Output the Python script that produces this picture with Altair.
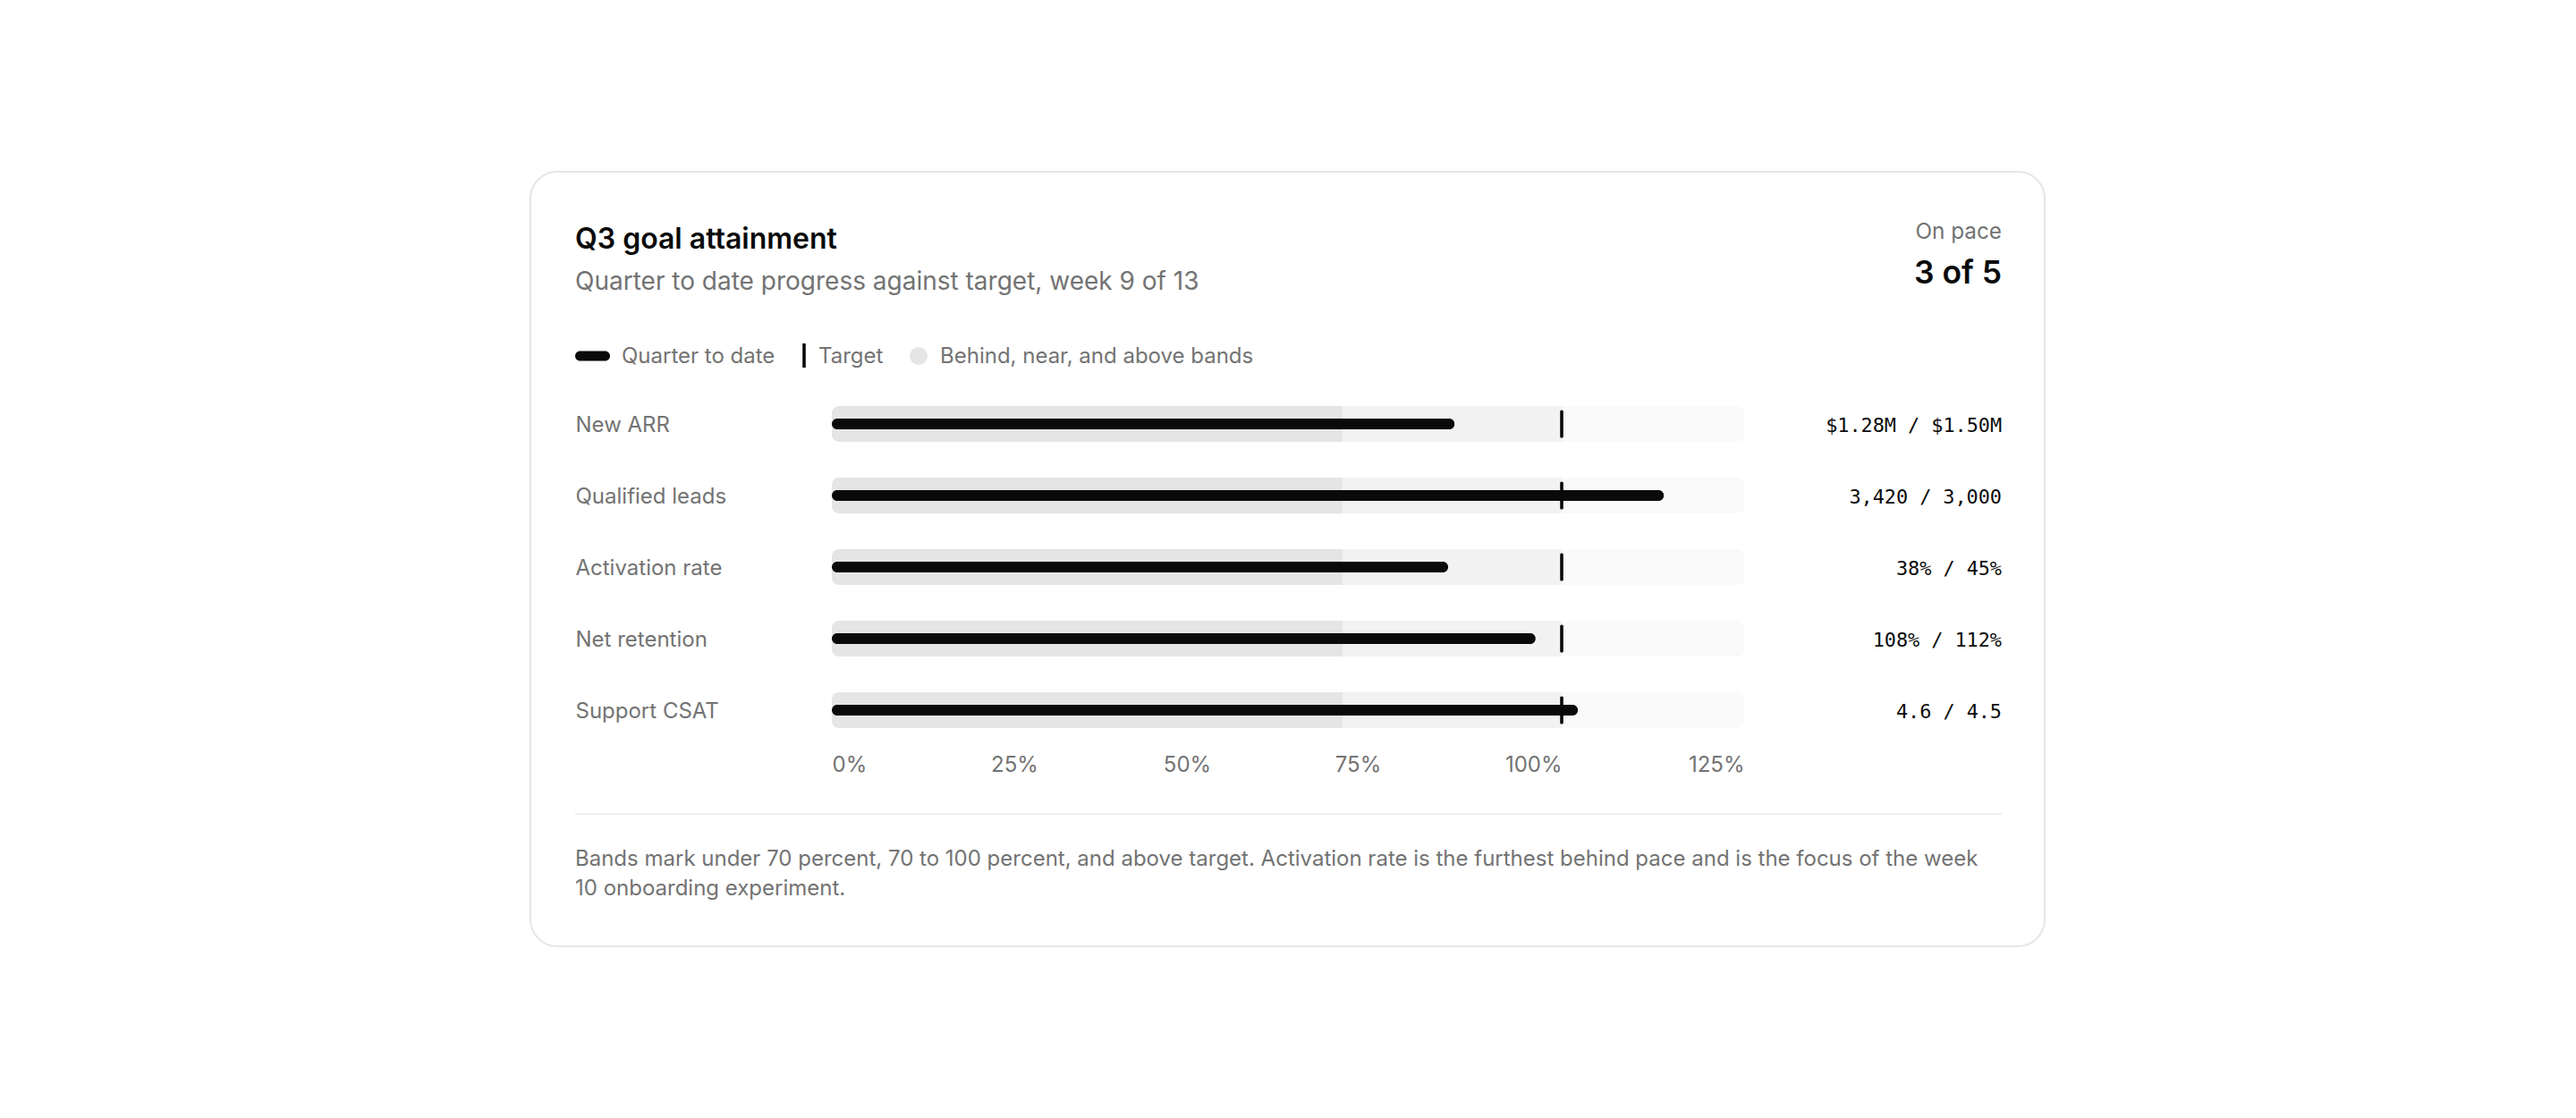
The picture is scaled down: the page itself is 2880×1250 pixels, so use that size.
import altair as alt
import pandas as pd

# ---------------- data ----------------
metrics = ["New ARR", "Qualified leads", "Activation rate", "Net retention", "Support CSAT"]
actual = [1.28, 3420, 38, 108, 4.6]
target = [1.50, 3000, 45, 112, 4.5]
actual_text = ["$1.28M", "3,420", "38%", "108%", "4.6"]
target_text = ["$1.50M", "3,000", "45%", "112%", "4.5"]
band_edges = [0, 70, 100, 125]
band_names = ["Behind", "Near", "Above"]
axis_ticks = [0, 25, 50, 75, 100, 125]

title_text = "Q3 goal attainment"
subtitle_text = "Quarter to date progress against target, week 9 of 13"
kpi_label = "On pace"
kpi_value = "3 of 5"
legend_labels = ["Quarter to date", "Target", "Behind, near, and above bands"]
footer_lines = [
    "Bands mark under 70 percent, 70 to 100 percent, and above target. Activation rate is the furthest behind pace and is the focus of the week",
    "10 onboarding experiment.",
]

# ---------------- tables ----------------
metric_df = pd.DataFrame({
    "metric": metrics,
    "pct": [a / t * 100 for a, t in zip(actual, target)],
    "target_pct": [100.0] * len(metrics),
    "label": [f"{a} / {t}" for a, t in zip(actual_text, target_text)],
})
track_df = pd.DataFrame({"metric": metrics, "start": band_edges[0], "end": band_edges[-1]})
band_rows = []
for m in metrics:
    for i, b in enumerate(band_names):
        band_rows.append({"metric": m, "band": b, "start": band_edges[i], "end": band_edges[i + 1]})
band_df = pd.DataFrame(band_rows)

# ---------------- styles ----------------
GREY = "#737373"
INK = "#0a0a0a"
FONT = "Inter"
MONO = "DejaVu Sans Mono"
LABEL_SIZE = 24

XS = alt.Scale(domain=[band_edges[0], band_edges[-1]], nice=False, zero=True)
YS = alt.Scale(domain=metrics, paddingInner=0.5, paddingOuter=0.25)

X_AXIS = alt.Axis(
    values=axis_ticks,
    labelExpr="datum.value + '%'",
    domain=False, ticks=False, tickSize=0, grid=False,
    labelFont=FONT, labelFontSize=LABEL_SIZE, labelColor=GREY,
    labelPadding=28, labelBaseline="alphabetic",
    labelFlush=False, labelOverlap=False,
    labelAlign={"condition": [
        {"test": "datum.value == 0", "value": "left"},
        {"test": "datum.value >= 100", "value": "right"}],
        "value": "center"},
    labelOffset={"condition": [
        {"test": "datum.value == 50", "value": -11},
        {"test": "datum.value == 75", "value": -24}],
        "value": 0},
    zindex=2,
    title=None,
)
Y_AXIS = alt.Axis(
    domain=False, ticks=False, tickSize=0, grid=False,
    labelAlign="left", labelPadding=287, labelLimit=400, labelOffset=2,
    labelFont=FONT, labelFontSize=LABEL_SIZE, labelColor=GREY,
    zindex=2,
    title=None,
)


def xenc(field):
    return alt.X(field, scale=XS, axis=X_AXIS, title=None)


def yenc():
    return alt.Y("metric:N", scale=YS, axis=Y_AXIS, title=None)


one = pd.DataFrame({"a": [0]})


def text_layer(text, x, y, size, color=GREY, weight=400, align="left", font=FONT, baseline="alphabetic"):
    return alt.Chart(pd.DataFrame({"t": [text]})).mark_text(
        align=align, baseline=baseline, font=font, fontSize=size,
        fontWeight=weight, color=color,
    ).encode(x=alt.value(x), y=alt.value(y), text="t:N")


# ---------------- card & header ----------------
card = alt.Chart(one).mark_rect(
    fill="white", stroke="#e6e6e6", strokeWidth=2, cornerRadius=30
).encode(x=alt.value(-337), x2=alt.value(1356), y=alt.value(-242), y2=alt.value(624))

title = text_layer(title_text, -287, -156, 32, color=INK, weight=600)
subtitle = text_layer(subtitle_text, -287, -110, 28)
kpi_l = text_layer(kpi_label, 1308, -167, 24.3, align="right")
kpi_v = text_layer(kpi_value, 1308, -117, 35.4, color=INK, weight=600, align="right")

# legend
leg_pill = alt.Chart(one).mark_rect(color=INK, cornerRadius=5.5).encode(
    x=alt.value(-287), x2=alt.value(-248), y=alt.value(-41.5), y2=alt.value(-30.5))
leg_t1 = text_layer(legend_labels[0], -235, -28, LABEL_SIZE)
leg_tick = alt.Chart(one).mark_rule(color=INK, strokeWidth=3.6).encode(
    x=alt.value(-31), y=alt.value(-50), y2=alt.value(-23))
leg_t2 = text_layer(legend_labels[1], -15, -28, LABEL_SIZE)
leg_dot = alt.Chart(one).mark_circle(color="#e5e5e5", opacity=1, size=400).encode(
    x=alt.value(97), y=alt.value(-36))
leg_t3 = text_layer(legend_labels[2], 121, -28, LABEL_SIZE)

# ---------------- bullets ----------------
track = alt.Chart(track_df).mark_bar(color="#fafafa", cornerRadius=8).encode(
    x=xenc("start:Q"), x2="end:Q", y=yenc())
behind = alt.Chart(band_df).transform_filter(alt.datum.band == "Behind").mark_bar(
    color="#e5e5e5", cornerRadiusTopLeft=8, cornerRadiusBottomLeft=8).encode(
    x=xenc("start:Q"), x2="end:Q", y=yenc())
near = alt.Chart(band_df).transform_filter(alt.datum.band == "Near").mark_bar(
    color="#f2f2f2").encode(x=xenc("start:Q"), x2="end:Q", y=yenc())
bars = alt.Chart(metric_df).mark_bar(color=INK, size=12, cornerRadius=6).encode(
    x=xenc("pct:Q"), y=yenc())
ticks = alt.Chart(metric_df).mark_tick(color=INK, opacity=1, thickness=3.6, size=31, cornerRadius=1.6).encode(
    x=xenc("target_pct:Q"), y=yenc())
values = alt.Chart(metric_df).mark_text(
    align="right", baseline="middle", font=MONO, fontSize=21.8, color=INK, dy=2
).encode(x=alt.value(1308), y=yenc(), text="label:N")

# ---------------- footer ----------------
divider = alt.Chart(one).mark_rule(color="#efefef", strokeWidth=2).encode(
    x=alt.value(-287), x2=alt.value(1308), y=alt.value(476))
foot1 = text_layer(footer_lines[0], -287, 534, LABEL_SIZE)
foot2 = text_layer(footer_lines[1], -287, 567, LABEL_SIZE)

chart = alt.layer(
    card, title, subtitle, kpi_l, kpi_v,
    leg_pill, leg_t1, leg_tick, leg_t2, leg_dot, leg_t3,
    track, behind, near, bars, ticks, values,
    divider, foot1, foot2,
).properties(
    width=1020, height=400,
    padding={"left": 922, "top": 426, "right": 922, "bottom": 408},
    autosize=alt.AutoSizeParams(type="none"),
    background="white",
).configure_view(stroke=None).configure(font=FONT)

chart.save("out.html", embed_options={"renderer": "svg", "actions": False})
